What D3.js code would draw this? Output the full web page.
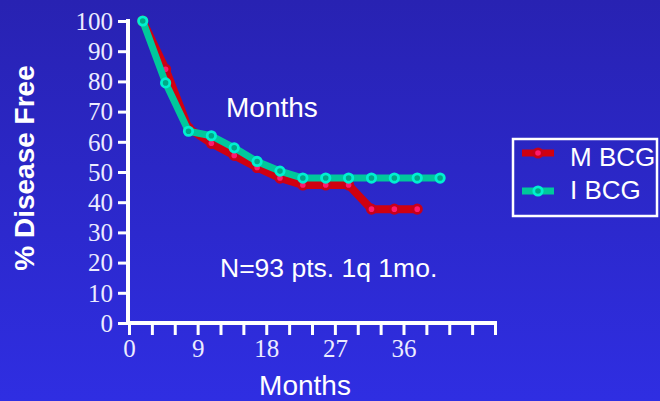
<!DOCTYPE html>
<html>
<head>
  <meta charset="utf-8">
  <script src="https://d3js.org/d3.v7.min.js"></script>
  <style>
    body { margin: 0; padding: 0; overflow: hidden; }
  </style>
</head>
<body>
<script>
// data
var months = [1.8, 4.8, 7.8, 10.8, 13.8, 16.8, 19.8, 22.8, 25.8, 28.8, 31.8, 34.8, 37.8, 40.8];
var mBCG = [100, 84, 64.5, 59.5, 55.5, 51.5, 48, 45.7, 45.7, 45.7, 37.7, 37.7, 37.7];
var iBCG = [100, 79.5, 63.5, 62, 58, 53.5, 50.3, 48, 48, 48, 48, 48, 48, 48];
var yTicks = [0, 10, 20, 30, 40, 50, 60, 70, 80, 90, 100];
var xLabels = [0, 9, 18, 27, 36];
var legendNames = ["M BCG", "I BCG"];

var width = 660, height = 401;

var svg = d3.select("body").append("svg")
  .attr("width", width)
  .attr("height", height);

var grad = svg.append("defs").append("linearGradient")
  .attr("id", "bg").attr("x1", 0).attr("y1", 0).attr("x2", 0).attr("y2", 1);
grad.append("stop").attr("offset", "0%").attr("stop-color", "#2822b2");
grad.append("stop").attr("offset", "100%").attr("stop-color", "#2f2ee2");

svg.append("rect").attr("width", width).attr("height", height).attr("fill", "url(#bg)");

var x = d3.scaleLinear().domain([0, 48]).range([129, 495]);
var y = d3.scaleLinear().domain([0, 100]).range([323, 21]);

var serif = "Liberation Serif, Times New Roman, serif";
var sans = "Liberation Sans, Arial, sans-serif";

// axes
var yAxis = d3.axisLeft(y).tickValues(yTicks).tickSize(10).tickPadding(5);
var gy = svg.append("g").attr("transform", "translate(128,0)").call(yAxis);
gy.select(".domain").remove();
gy.selectAll(".tick line").attr("stroke", "white").attr("stroke-width", 3);
gy.selectAll("text").attr("fill", "#ececff")
  .style("font-family", serif)
  .style("font-size", "25px")
  .attr("dy", "0.33em");

svg.append("line").attr("x1", 128).attr("x2", 128).attr("y1", 19).attr("y2", 325)
  .attr("stroke", "white").attr("stroke-width", 4);

var xAxis = d3.axisBottom(x).tickValues(d3.range(0, 49, 3)).tickSize(12)
  .tickFormat(function(d) { return xLabels.indexOf(d) >= 0 ? d : ""; })
  .tickPadding(4);
var gx = svg.append("g").attr("transform", "translate(0,323)").call(xAxis);
gx.select(".domain").remove();
gx.selectAll(".tick line").attr("stroke", "white").attr("stroke-width", 3);
gx.selectAll("text").attr("fill", "#ececff")
  .style("font-family", serif)
  .style("font-size", "25px");

svg.append("line").attr("x1", 126).attr("x2", 497).attr("y1", 323).attr("y2", 323)
  .attr("stroke", "white").attr("stroke-width", 4);

// series
var line = d3.line()
  .x(function(d, i) { return x(months[i]); })
  .y(function(d) { return y(d); });

function drawSeries(vals, lineColor, ringColor, dotColor, w) {
  svg.append("path").datum(vals)
    .attr("d", line)
    .attr("fill", "none")
    .attr("stroke", lineColor)
    .attr("stroke-width", w)
    .attr("stroke-linejoin", "round");
  svg.selectAll(null).data(vals).enter().append("circle")
    .attr("cx", function(d, i) { return x(months[i]); })
    .attr("cy", function(d) { return y(d); })
    .attr("r", 4.2)
    .attr("fill", dotColor)
    .attr("stroke", ringColor)
    .attr("stroke-width", 2.8);
}

drawSeries(mBCG, "#d00010", "#c8001a", "#ff1a6e", 8);
drawSeries(iBCG, "#00c89c", "#00f0d0", "#00a888", 7);

// texts
svg.append("text").attr("x", 226).attr("y", 117).text("Months")
  .attr("fill", "white").style("font-family", sans).style("font-size", "28px");
svg.append("text").attr("x", 220).attr("y", 277).text("N=93 pts. 1q 1mo.")
  .attr("fill", "white").style("font-family", sans).style("font-size", "26.5px");
svg.append("text").attr("x", 305).attr("y", 395).attr("text-anchor", "middle").text("Months")
  .attr("fill", "white").style("font-family", sans).style("font-size", "28px");
svg.append("text").attr("transform", "translate(34,168) rotate(-90)")
  .attr("text-anchor", "middle").text("% Disease Free")
  .attr("fill", "white").style("font-family", sans).style("font-size", "28px")
  .style("font-weight", "bold");

// legend
svg.append("rect").attr("x", 513).attr("y", 139).attr("width", 144).attr("height", 77)
  .attr("fill", "none").attr("stroke", "white").attr("stroke-width", 2.5);
var legColors = [["#d00010", "#c8001a", "#ff1a6e"], ["#00c89c", "#00f0d0", "#00a888"]];
var legY = [153, 191];
var legTextY = [166, 199];
legendNames.forEach(function(name, i) {
  svg.append("line").attr("x1", 522).attr("x2", 554).attr("y1", legY[i]).attr("y2", legY[i])
    .attr("stroke", legColors[i][0]).attr("stroke-width", 7);
  svg.append("circle").attr("cx", 538).attr("cy", legY[i]).attr("r", 4.2)
    .attr("fill", legColors[i][2]).attr("stroke", legColors[i][1]).attr("stroke-width", 2.8);
  svg.append("text").attr("x", 570).attr("y", legTextY[i]).text(name)
    .attr("fill", "white").style("font-family", sans).style("font-size", "26px");
});
</script>
</body>
</html>
